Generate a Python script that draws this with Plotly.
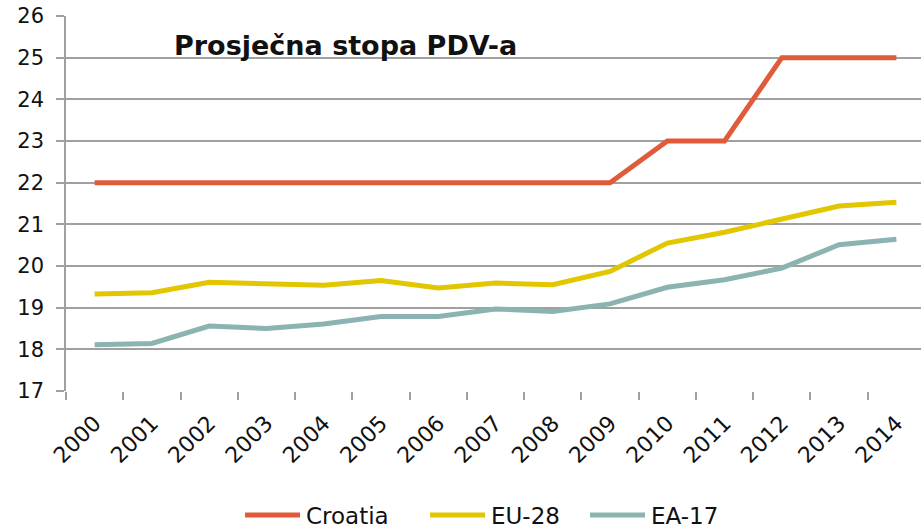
import plotly.graph_objects as go

years = [str(y) for y in range(2000, 2015)]
croatia = [22, 22, 22, 22, 22, 22, 22, 22, 22, 22, 23, 23, 25, 25, 25]
eu28 = [19.33, 19.36, 19.61, 19.57, 19.54, 19.65, 19.47, 19.59, 19.55, 19.87,
        20.55, 20.81, 21.12, 21.44, 21.53]
ea17 = [18.11, 18.14, 18.56, 18.50, 18.61, 18.79, 18.79, 18.97, 18.91, 19.09,
        19.49, 19.67, 19.95, 20.51, 20.64]
series_names = ["Croatia", "EU-28", "EA-17"]
colors = ["#E05B3A", "#E2C600", "#8AB3B1"]
title_text = "Prosječna stopa PDV-a"

FONT = "'DejaVu Sans', sans-serif"
W, H = 921, 529
L, R, T, B = 66, 0, 16, 138
PW, PH = W - L - R, H - T - B


def px(x):
    return (x - L) / PW


def py(y):
    return (H - B - y) / PH


fig = go.Figure()
for name, vals, c in zip(series_names, [croatia, eu28, ea17], colors):
    fig.add_trace(go.Scatter(x=years, y=vals, mode="lines", name=name,
                             line=dict(color=c, width=5), showlegend=False))

annotations = [dict(text="<b>" + title_text + "</b>", x=px(345), y=py(46),
                    xref="paper", yref="paper", xanchor="center", yanchor="middle",
                    showarrow=False, font=dict(size=27, color="#111111"))]
shapes = []
# manual legend (line sample + label)
leg_x = [245, 430, 590]
leg_y = 515
for name, c, x0 in zip(series_names, colors, leg_x):
    shapes.append(dict(type="line", xref="paper", yref="paper",
                       x0=px(x0), x1=px(x0 + 55), y0=py(leg_y), y1=py(leg_y),
                       line=dict(color=c, width=5)))
    annotations.append(dict(text=name, x=px(x0 + 59), y=py(leg_y + 1), xref="paper", yref="paper",
                            xanchor="left", yanchor="middle", showarrow=False,
                            font=dict(size=23, color="#111111")))

fig.update_layout(
    width=W, height=H,
    margin=dict(l=L, r=R, t=T, b=B),
    plot_bgcolor="white", paper_bgcolor="white",
    font=dict(family=FONT, size=20, color="#111111"),
    showlegend=False,
    annotations=annotations,
    shapes=shapes,
)

fig.update_xaxes(type="category", range=[-0.5, 14.43], tickangle=-45, automargin=False,
                 showgrid=False, showline=False, ticks="outside", tickson="boundaries",
                 ticklen=8, tickcolor="#A0A0A0", tickwidth=1.5, ticklabelstandoff=14,
                 tickfont=dict(size=22))
fig.update_yaxes(range=[17, 26], dtick=1, showgrid=True, gridcolor="#A0A0A0", gridwidth=1.5,
                 showline=True, linecolor="#A0A0A0", linewidth=1.5, automargin=False,
                 ticks="outside", ticklen=8, tickcolor="#A0A0A0", tickwidth=1.5,
                 ticklabelstandoff=8, zeroline=False, tickfont=dict(size=21))

fig.write_html("out.html", config={"displayModeBar": False},
               post_script="document.body.style.margin='0';document.body.style.overflow='hidden';")
